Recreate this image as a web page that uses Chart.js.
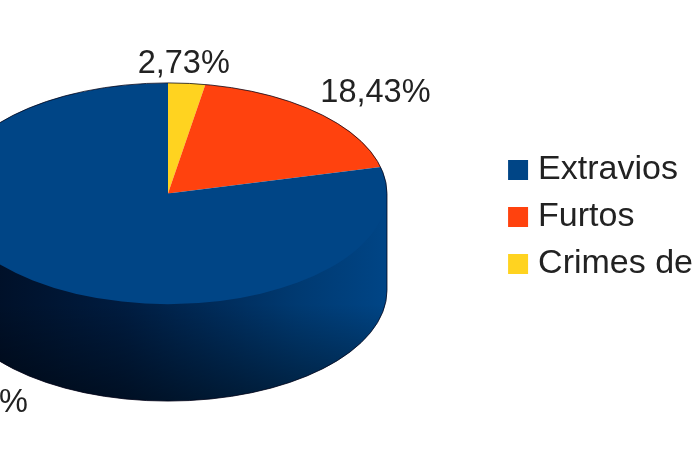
<!DOCTYPE html>
<html>
<head>
<meta charset="utf-8">
<style>
  html, body { margin: 0; padding: 0; background: #fff; overflow: hidden; }
  canvas { display: block; filter: blur(0.5px); }
</style>
<script src="https://cdn.jsdelivr.net/npm/chart.js@4/dist/chart.umd.min.js"></script>
</head>
<body>
<canvas id="pie" width="697" height="465"></canvas>
<script>
// listed in drawing order (clockwise from the top), legend is reversed
const categories = ["Crimes de", "Furtos", "Extravios"];
const shares = [2.73, 18.43, 78.84];
const colors = ["#ffd320", "#ff420e", "#004586"];

const squash = 0.505;   // how flat the top face is
const depth = 97;       // height of the side wall on screen
const centerX = 168;    // top face centre, the pie runs off the left edge
const centerY = 193.5;
const legendShift = 6;  // legend sits closer to the right edge than its padding allows

const fontFamily = '"Liberation Sans", Arial, sans-serif';

// runs under the top face so no seam shows along the rim
function sidePath(ctx, r) {
  const ry = r * squash;
  ctx.beginPath();
  ctx.moveTo(centerX + r, centerY);
  ctx.lineTo(centerX + r, centerY + depth);
  ctx.ellipse(centerX, centerY + depth, r, ry, 0, 0, Math.PI);
  ctx.lineTo(centerX - r, centerY);
  ctx.closePath();
}

const pie3d = {
  id: "pie3d",
  afterLayout(chart) {
    chart.legend.left += legendShift;
    chart.legend.right += legendShift;
  },
  beforeDatasetsDraw(chart) {
    const ctx = chart.ctx;
    const arc = chart.getDatasetMeta(0).data[0];
    const r = arc.outerRadius;

    // side wall
    const across = ctx.createLinearGradient(centerX - r, 0, centerX + r, 0);
    across.addColorStop(0, "#000c20");
    across.addColorStop(0.4, "#001c40");
    across.addColorStop(0.8, "#003a72");
    across.addColorStop(1, "#004586");
    ctx.fillStyle = across;
    sidePath(ctx, r);
    ctx.fill();

    const down = ctx.createLinearGradient(0, centerY + r * squash, 0, centerY + r * squash + depth);
    down.addColorStop(0, "rgba(0,0,0,0)");
    down.addColorStop(1, "rgba(0,0,0,0.45)");
    ctx.fillStyle = down;
    sidePath(ctx, r);
    ctx.fill();

    // squash the slices into the top face
    ctx.save();
    ctx.translate(centerX, centerY);
    ctx.scale(1, squash);
    ctx.translate(-arc.x, -arc.y);
  },
  afterDatasetsDraw(chart) {
    const ctx = chart.ctx;
    ctx.restore();

    const meta = chart.getDatasetMeta(0);
    const r = meta.data[0].outerRadius;
    const ry = r * squash;

    // thin dark outline round the silhouette
    ctx.strokeStyle = "rgba(0,0,20,0.75)";
    ctx.lineWidth = 1;
    ctx.beginPath();
    ctx.ellipse(centerX, centerY, r, ry, 0, Math.PI, 0);
    ctx.lineTo(centerX + r, centerY + depth);
    ctx.ellipse(centerX, centerY + depth, r, ry, 0, 0, Math.PI);
    ctx.stroke();

    // percentage labels, anchored on the outline
    ctx.fillStyle = "#222";
    ctx.font = "32.5px " + fontFamily;
    meta.data.forEach((el, i) => {
      const mid = (el.startAngle + el.endAngle) / 2 + Math.PI / 2;
      const s = Math.sin(mid), c = Math.cos(mid);
      let y = centerY - c * ry;
      if (c < 0) y += depth;
      ctx.textAlign = Math.abs(s) < 0.2 ? "center" : (s > 0 ? "left" : "right");
      ctx.textBaseline = c > 0 ? "bottom" : "top";
      ctx.fillText(shares[i].toFixed(2).replace(".", ",") + "%", centerX + s * r + (Math.abs(s) < 0.2 ? -3 : (s > 0 ? 3 : -5)), y + (c > 0 ? -3 : 9));
    });
  }
};

new Chart(document.getElementById("pie"), {
  type: "pie",
  data: {
    labels: categories,
    datasets: [{
      data: shares,
      backgroundColor: colors,
      borderWidth: 0,
      clip: false
    }]
  },
  options: {
    responsive: false,
    animation: false,
    radius: 219,
    layout: { padding: { bottom: 31 } },
    plugins: {
      tooltip: { enabled: false },
      legend: {
        position: "right",
        reverse: true,
        labels: {
          boxWidth: 6,
          boxHeight: 6,
          padding: 13,
          color: "#222",
          font: { family: fontFamily, size: 34 },
          generateLabels(chart) {
            return Chart.overrides.pie.plugins.legend.labels.generateLabels(chart).map(item => ({
              ...item,
              lineWidth: 14,
              strokeStyle: item.fillStyle
            }));
          }
        }
      }
    }
  },
  plugins: [pie3d]
});
</script>
</body>
</html>
